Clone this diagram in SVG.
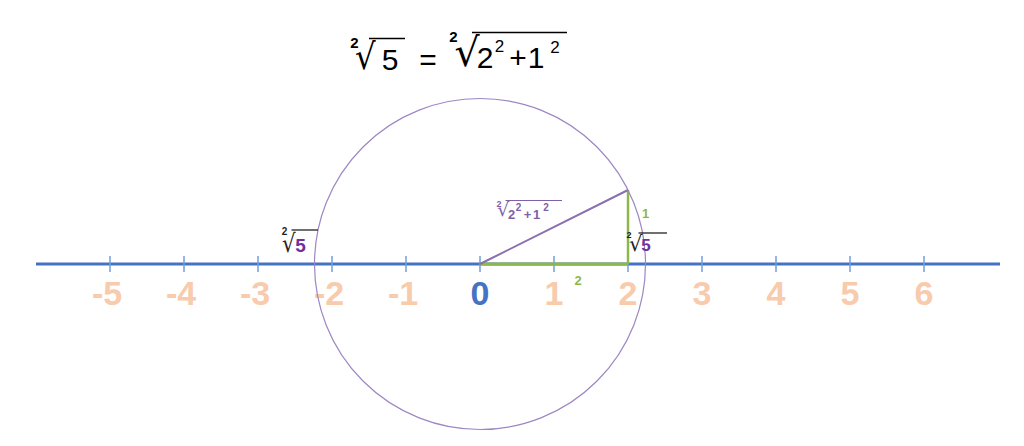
<svg xmlns="http://www.w3.org/2000/svg" width="1024" height="446" viewBox="0 0 1024 446">
<style>
.t{font-family:"Liberation Sans",Arial,sans-serif;fill:#000}
.r{font-family:"DejaVu Sans",sans-serif}
.num{font-family:"Liberation Sans",Arial,sans-serif;font-size:34px;font-weight:bold;fill:#F8CBAD;text-anchor:middle}
.tick{stroke:#6F9FD8;stroke-width:1.5}
.sm{font-family:"Liberation Sans",Arial,sans-serif;font-weight:bold;text-anchor:middle}
</style>
<rect width="1024" height="446" fill="#fff"/>
<g id="title">
<text class="t" x="354.5" y="48" font-size="15" font-weight="bold" text-anchor="middle">2</text>
<text class="r" font-size="36" transform="translate(355,68.8) scale(0.9,1)">√</text>
<line x1="369" y1="38.5" x2="405" y2="38.5" stroke="#000" stroke-width="1.6"/>
<text class="t" x="390" y="70" font-size="30" text-anchor="middle">5</text>
<text class="t" x="428" y="70" font-size="30" text-anchor="middle">=</text>
<text class="t" x="453.5" y="42" font-size="15" font-weight="bold" text-anchor="middle">2</text>
<text class="r" font-size="39.5" transform="translate(454.5,65.6)">√</text>
<line x1="472" y1="32.5" x2="567" y2="32.5" stroke="#000" stroke-width="1.6"/>
<text class="t" x="485" y="68" font-size="30" text-anchor="middle">2</text>
<text class="t" x="499.5" y="52" font-size="17" text-anchor="middle">2</text>
<text class="t" x="518" y="68" font-size="30" text-anchor="middle">+</text>
<text class="t" x="536" y="68" font-size="30" text-anchor="middle">1</text>
<text class="t" x="555" y="53" font-size="17" text-anchor="middle">2</text>
</g>
<g id="axis">
<line x1="36" y1="264" x2="1000" y2="264" stroke="#4472C4" stroke-width="3"/>
<line class="tick" x1="110" y1="256" x2="110" y2="272"/>
<line class="tick" x1="184" y1="256" x2="184" y2="272"/>
<line class="tick" x1="258" y1="256" x2="258" y2="272"/>
<line class="tick" x1="332" y1="256" x2="332" y2="272"/>
<line class="tick" x1="406" y1="256" x2="406" y2="272"/>
<line class="tick" x1="480" y1="256" x2="480" y2="272"/>
<line class="tick" x1="554" y1="256" x2="554" y2="272"/>
<line class="tick" x1="628" y1="256" x2="628" y2="272"/>
<line class="tick" x1="702" y1="256" x2="702" y2="272"/>
<line class="tick" x1="776" y1="256" x2="776" y2="272"/>
<line class="tick" x1="850" y1="256" x2="850" y2="272"/>
<line class="tick" x1="924" y1="256" x2="924" y2="272"/>
</g>
<g id="labels">
<text class="num" x="107" y="305">-5</text>
<text class="num" x="181" y="305">-4</text>
<text class="num" x="255" y="305">-3</text>
<text class="num" x="329" y="305">-2</text>
<text class="num" x="403" y="305">-1</text>
<text class="num" x="480" y="305" style="fill:#4472C4">0</text>
<text class="num" x="554" y="305">1</text>
<text class="num" x="628" y="305">2</text>
<text class="num" x="702" y="305">3</text>
<text class="num" x="776" y="305">4</text>
<text class="num" x="850" y="305">5</text>
<text class="num" x="924" y="305">6</text>
</g>
<g id="triangle">
<line x1="480" y1="264" x2="628" y2="264" stroke="#8DB849" stroke-width="3"/>
<line x1="628" y1="190" x2="628" y2="264" stroke="#8DB849" stroke-width="2.5"/>
<line x1="480" y1="264" x2="628" y2="190" stroke="#8A6FB0" stroke-width="2"/>
</g>
<g id="circle">
<circle cx="480" cy="264" r="165.5" fill="none" stroke="#9D87C2" stroke-width="1.2"/>
</g>
<g id="hyp-label" fill="#7E5FA8">
<text class="sm" x="499" y="206.5" font-size="9">2</text>
<text class="r" font-size="18.7" transform="translate(497.2,215.9)">√</text>
<line x1="505.5" y1="200.5" x2="562" y2="200.5" stroke="#7E5FA8" stroke-width="1.2"/>
<text class="sm" x="511.5" y="219" font-size="13">2</text>
<text class="sm" x="518.5" y="211" font-size="10">2</text>
<text class="sm" x="527.5" y="219" font-size="13">+</text>
<text class="sm" x="536.5" y="219" font-size="13">1</text>
<text class="sm" x="546" y="211" font-size="10">2</text>
</g>
<g id="left-root">
<text class="sm" x="284.5" y="235" font-size="10" fill="#222">2</text>
<text class="r" font-size="25" fill="#222" transform="translate(282,251.5) scale(0.85,1)">√</text>
<line x1="291.5" y1="230" x2="318" y2="230" stroke="#222" stroke-width="1.3"/>
<text class="sm" x="300.5" y="252" font-size="19" fill="#7030A0">5</text>
</g>
<g id="right-root">
<text class="sm" x="629" y="238" font-size="9" fill="#222">2</text>
<text class="r" font-size="21" fill="#222" transform="translate(629,250.7)">√</text>
<line x1="638.5" y1="233" x2="667" y2="233" stroke="#222" stroke-width="1.3"/>
<text class="sm" x="646" y="251" font-size="17" fill="#7030A0">5</text>
</g>
<g id="side-labels">
<text class="sm" x="645.5" y="218" font-size="13" fill="#8DB849">1</text>
<text class="sm" x="578" y="285" font-size="13" fill="#8DB849">2</text>
</g>
</svg>
